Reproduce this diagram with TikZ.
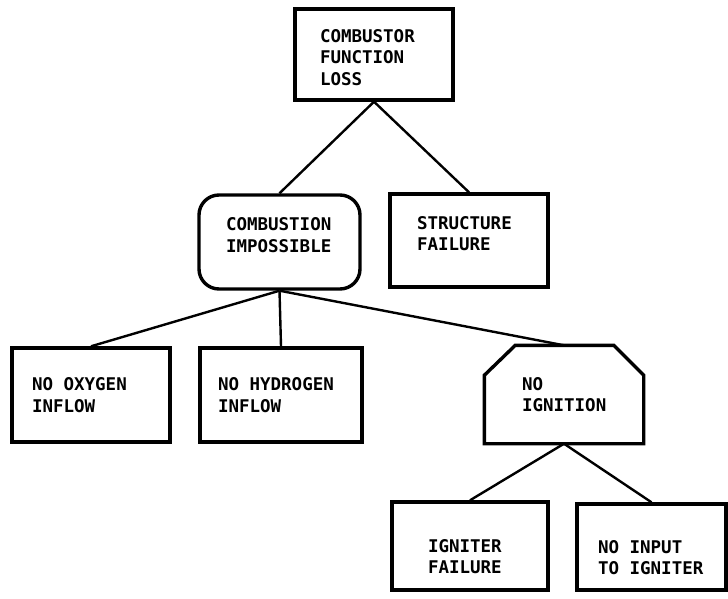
\documentclass[tikz,border=0pt]{standalone}
\usepackage{fontspec}
\newfontfamily\evtfont{DejaVu Sans Mono}
\newcommand\gap{\hspace{0.602em}}
\usetikzlibrary{positioning}

\begin{document}
\begin{tikzpicture}[
  x=1pt, y=-1pt,
  evt/.style={draw, line width=3.4pt, align=left, inner ysep=0pt,
              font=\evtfont\bfseries\fontsize{17.5}{21.5}\selectfont},
  link/.style={line width=2.4pt}
]
\useasboundingbox (0,0) rectangle (728,599);

% Event boxes
\node[evt, minimum height=91pt, text width=108pt, inner xsep=25pt] (top)  at (374,54.5) {\rule{0pt}{19pt}COMBUSTOR\\FUNCTION\\LOSS};
\node[evt, rounded corners=20pt, minimum height=94pt, text width=107pt, inner xsep=27pt] (cimp) at (279.5,242) {COMBUSTION\\IMPOSSIBLE\rule[-14pt]{0pt}{14pt}};
\node[evt, minimum height=93pt, text width=104pt, inner xsep=27pt] (sfail) at (469,240.5) {STRUCTURE\\FAILURE\rule[-14pt]{0pt}{14pt}};
\node[evt, minimum height=94pt, text width=118pt, inner xsep=20pt] (noox)  at (91,395) {NO\gap OXYGEN\\INFLOW};
\node[evt, minimum height=94pt, text width=126pt, inner xsep=18pt] (nohyd) at (281,395) {NO\gap HYDROGEN\\INFLOW};
\node[evt, draw=none, minimum height=95pt, text width=84pt, inner xsep=36pt] (noign) at (564,394.5) {NO\\IGNITION};
\node[evt, minimum height=88pt, text width=84pt, inner xsep=36pt] (igfail) at (470,546) {\rule{0pt}{34pt}IGNITER\\FAILURE};
\node[evt, minimum height=86pt, text width=107pt, inner xsep=21pt] (noinp) at (651.5,547) {\rule{0pt}{34pt}NO\gap INPUT\\TO\gap IGNITER};

% Chamfered outline for the gate box
\draw[line width=3.4pt] (noign.south west) -- ([yshift=-30pt]noign.north west)
  -- ([xshift=31pt]noign.north west) -- ([xshift=-30pt]noign.north east)
  -- ([yshift=-30pt]noign.north east) -- (noign.south east) -- cycle;

% Tree links
\draw[link] (top.south)  -- (cimp.north);
\draw[link] (top.south)  -- (sfail.north);
\draw[link] (cimp.south) -- (noox.north);
\draw[link] (cimp.south) -- (nohyd.north);
\draw[link] (cimp.south) -- (noign.north);
\draw[link] (noign.south) -- (igfail.north);
\draw[link] (noign.south) -- (noinp.north);
\end{tikzpicture}
\end{document}
